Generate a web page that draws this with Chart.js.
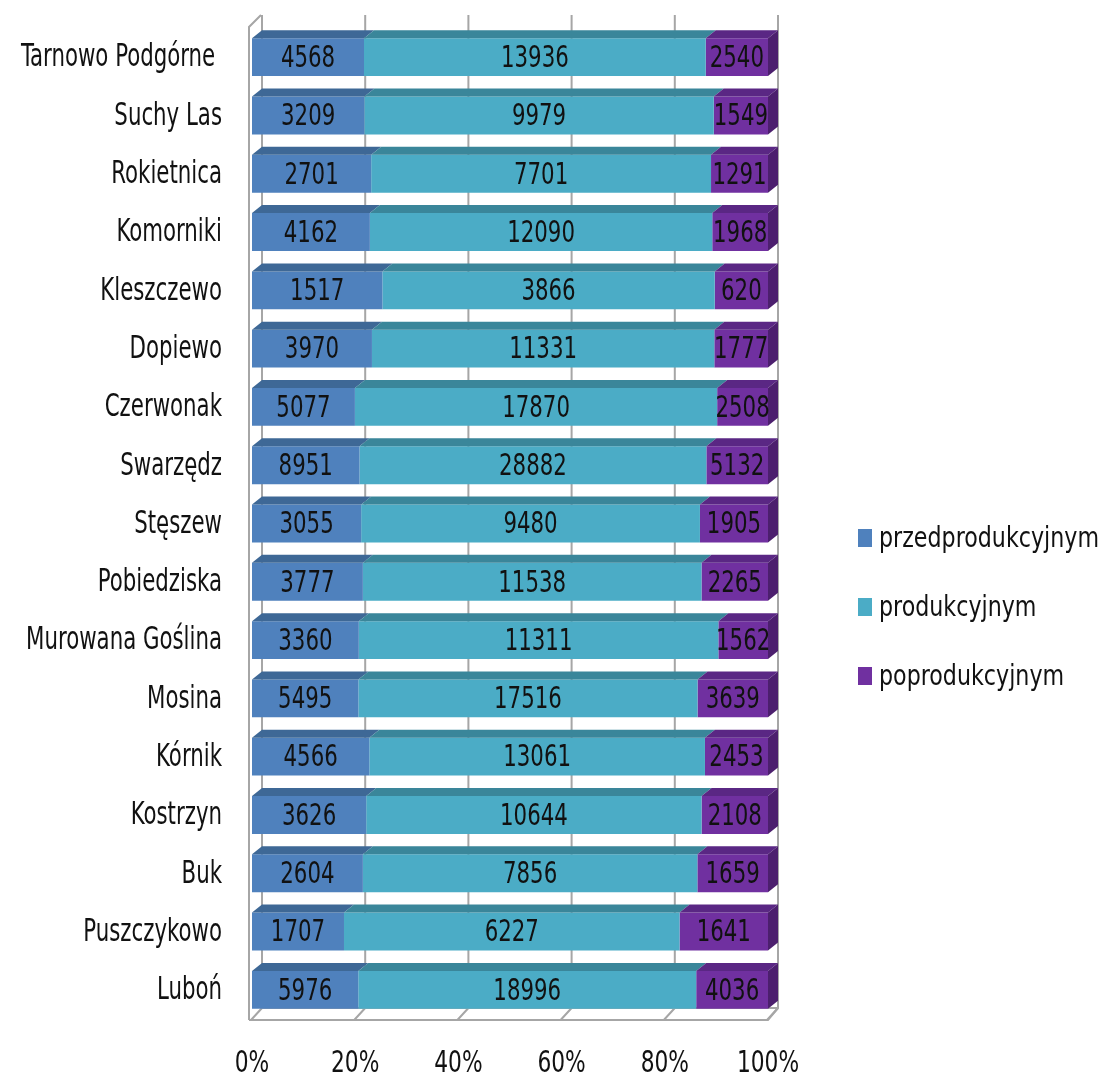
<!DOCTYPE html>
<html lang="pl">
<head>
<meta charset="UTF-8">
<title>Struktura ludności wg grup wieku</title>
<script src="https://cdn.jsdelivr.net/npm/chart.js"></script>
<style>
    body { margin: 0; background: #fff; }
    #wrap { width: 1099px; height: 1081px; }
</style>
</head>
<body>
<div id="wrap"><canvas id="chart" width="1099" height="1081"></canvas></div>
<script>
const gminy = ['Tarnowo Podgórne ', 'Suchy Las', 'Rokietnica', 'Komorniki', 'Kleszczewo', 'Dopiewo',
    'Czerwonak', 'Swarzędz', 'Stęszew', 'Pobiedziska', 'Murowana Goślina', 'Mosina', 'Kórnik',
    'Kostrzyn', 'Buk', 'Puszczykowo', 'Luboń'];
const przedprodukcyjny = [4568, 3209, 2701, 4162, 1517, 3970, 5077, 8951, 3055, 3777, 3360, 5495, 4566, 3626, 2604, 1707, 5976];
const produkcyjny = [13936, 9979, 7701, 12090, 3866, 11331, 17870, 28882, 9480, 11538, 11311, 17516, 13061, 10644, 7856, 6227, 18996];
const poprodukcyjny = [2540, 1549, 1291, 1968, 620, 1777, 2508, 5132, 1905, 2265, 1562, 3639, 2453, 2108, 1659, 1641, 4036];
const seriesNames = ['przedprodukcyjnym', 'produkcyjnym', 'poprodukcyjnym'];
const tickValues = [0, 20, 40, 60, 80, 100];

const FONT = "'Liberation Sans Narrow', 'DejaVu Sans Condensed', 'Open Sans', sans-serif";
const frontColors = ['#4f81bd', '#4bacc6', '#7030a0'];
const topColors = ['#3e6896', '#3a869a', '#5a2784'];
const sideColors = ['#36598a', '#31788a', '#4c1f6e'];

// 100% stacked -> share of each group
const raw = [przedprodukcyjny, produkcyjny, poprodukcyjny];
const totals = gminy.map((_, i) => raw.reduce((s, arr) => s + arr[i], 0));
const shares = raw.map(arr => arr.map((v, i) => v / totals[i] * 100));

const DX = 10, DY = 8;

// the original text is very narrow, so squeeze it horizontally
function drawText(ctx, text, x, y, align, size, sx) {
    ctx.save();
    ctx.font = size + 'px ' + FONT;
    ctx.textBaseline = 'middle';
    ctx.textAlign = align;
    ctx.fillStyle = '#111';
    ctx.translate(x, y);
    ctx.scale(sx, 1);
    ctx.fillText(text, 0, 0);
    ctx.restore();
}

const box3d = {
    id: 'box3d',
    beforeDatasetsDraw(chart) {
        const { ctx, chartArea: a, scales: { x } } = chart;
        const floorY = a.bottom + 1;
        const backFloorY = floorY - 12;
        const topY = a.top - 13;
        const x0 = x.getPixelForValue(0);
        const x1 = x.getPixelForValue(100);
        ctx.save();
        ctx.strokeStyle = '#a6a6a6';
        ctx.lineWidth = 2;
        // gridlines on back wall + floor
        tickValues.forEach(v => {
            const px = x.getPixelForValue(v);
            ctx.beginPath();
            ctx.moveTo(px + DX, topY);
            ctx.lineTo(px + DX, backFloorY);
            ctx.lineTo(px - 1, floorY);
            ctx.stroke();
        });
        ctx.beginPath();
        ctx.moveTo(x0 - 3, floorY);
        ctx.lineTo(x1, floorY);
        ctx.lineTo(x1 + DX, backFloorY);
        ctx.stroke();
        ctx.beginPath();
        ctx.moveTo(x0 + DX, backFloorY);
        ctx.lineTo(x1 + DX, backFloorY);
        ctx.stroke();
        // left wall
        ctx.beginPath();
        ctx.moveTo(x0 - 3, floorY);
        ctx.lineTo(x0 - 3, topY + 12);
        ctx.lineTo(x0 + DX - 1, topY);
        ctx.stroke();
        ctx.restore();
    },
    afterDatasetsDraw(chart) {
        const { ctx } = chart;
        ctx.save();
        chart.data.datasets.forEach((ds, d) => {
            const meta = chart.getDatasetMeta(d);
            meta.data.forEach((bar, i) => {
                const left = Math.min(bar.base, bar.x);
                const right = Math.max(bar.base, bar.x);
                const ty = bar.y - bar.height / 2;
                const by = bar.y + bar.height / 2;
                ctx.fillStyle = topColors[d];
                ctx.beginPath();
                ctx.moveTo(left, ty);
                ctx.lineTo(right, ty);
                ctx.lineTo(right + DX, ty - DY);
                ctx.lineTo(left + DX, ty - DY);
                ctx.closePath();
                ctx.fill();
                if (d === chart.data.datasets.length - 1) {
                    ctx.fillStyle = sideColors[d];
                    ctx.beginPath();
                    ctx.moveTo(right, ty);
                    ctx.lineTo(right + DX, ty - DY);
                    ctx.lineTo(right + DX, by - DY);
                    ctx.lineTo(right, by);
                    ctx.closePath();
                    ctx.fill();
                }
            });
        });
        ctx.restore();
        // value labels
        chart.data.datasets.forEach((ds, d) => {
            chart.getDatasetMeta(d).data.forEach((bar, i) => {
                drawText(ctx, String(raw[d][i]), (bar.base + bar.x) / 2, bar.y + 2, 'center', 30, 0.79);
            });
        });
    },
    afterDraw(chart) {
        const { ctx, chartArea: a, scales: { x, y } } = chart;
        // category labels
        gminy.forEach((name, i) => {
            drawText(ctx, name, a.left - 30, y.getPixelForValue(i) + 1, 'right', 32, 0.74);
        });
        // percentage ticks
        tickValues.forEach(v => {
            drawText(ctx, v + '%', x.getPixelForValue(v), 1064, 'center', 31, 0.78);
        });
        // legend
        const rows = [538, 607, 676];
        seriesNames.forEach((name, d) => {
            ctx.fillStyle = frontColors[d];
            ctx.fillRect(858, rows[d] - 9, 14, 18);
            drawText(ctx, name, 879, rows[d] + 1, 'left', 29, 0.85);
        });
    }
};

new Chart(document.getElementById('chart').getContext('2d'), {
    type: 'bar',
    data: {
        labels: gminy,
        datasets: seriesNames.map((name, d) => ({
            label: name,
            data: shares[d],
            backgroundColor: frontColors[d],
            borderWidth: 0,
            barPercentage: 0.65,
            categoryPercentage: 1
        }))
    },
    options: {
        indexAxis: 'y',
        responsive: false,
        animation: false,
        layout: { padding: { top: 28, right: 331, left: 0, bottom: 0 } },
        plugins: { legend: { display: false }, tooltip: { enabled: false } },
        scales: {
            x: {
                stacked: true,
                min: 0,
                max: 100,
                afterBuildTicks(scale) { scale.ticks = tickValues.map(v => ({ value: v })); },
                afterFit(scale) { scale.height = 62; },
                grid: { display: false, drawTicks: false },
                border: { display: false },
                ticks: { display: false }
            },
            y: {
                stacked: true,
                afterFit(scale) { scale.width = 252; },
                grid: { display: false, drawTicks: false },
                border: { display: false },
                ticks: { display: false, autoSkip: false }
            }
        }
    },
    plugins: [box3d]
});
</script>
</body>
</html>
